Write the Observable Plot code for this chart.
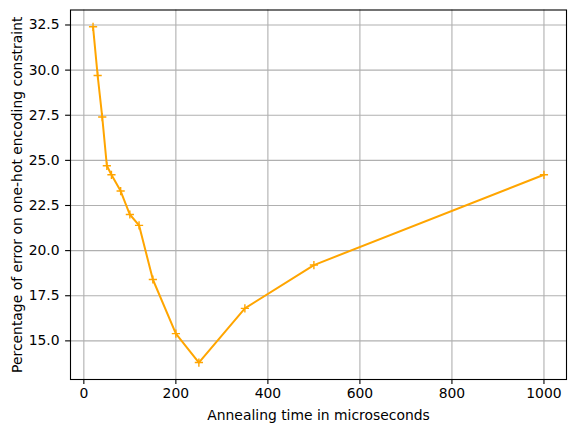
<!DOCTYPE html>
<html>
<head>
<meta charset="utf-8">
<script src="https://cdn.jsdelivr.net/npm/d3@7"></script>
<script src="https://cdn.jsdelivr.net/npm/@observablehq/plot@0.6"></script>
<style>
  html, body { margin: 0; padding: 0; background: #fff; }
  svg { display: block; }
</style>
</head>
<body>
<div id="chart"></div>
<script>
const annealTime = [20, 30, 40, 50, 60, 80, 100, 120, 150, 200, 250, 350, 500, 1000];
const errorPct = [32.4, 29.7, 27.4, 24.7, 24.2, 23.3, 22.0, 21.4, 18.4, 15.4, 13.8, 16.8, 19.2, 24.2];
const xTicks = [0, 200, 400, 600, 800, 1000];
const yTicks = [15.0, 17.5, 20.0, 22.5, 25.0, 27.5, 30.0, 32.5];
const xLabel = "Annealing time in microseconds";
const yLabel = "Percentage of error on one-hot encoding constraint";

const data = annealTime.map((t, i) => ({t, e: errorPct[i]}));

const plusSymbol = {
  draw(ctx, size) {
    const r = 4.1;
    ctx.moveTo(-r, 0); ctx.lineTo(r, 0);
    ctx.moveTo(0, -r); ctx.lineTo(0, r);
  }
};

const font = "DejaVu Sans, sans-serif";
const fs = 13.9;

const chart = Plot.plot({
  width: 576,
  height: 432,
  marginLeft: 70,
  marginRight: 10,
  marginTop: 9.5,
  marginBottom: 53,
  style: {fontFamily: font, fontSize: fs + "px", color: "black", background: "white"},
  x: {domain: [-29, 1049]},
  y: {domain: [12.86, 33.33]},
  marks: [
    Plot.gridX(xTicks, {stroke: "#b0b0b0", strokeOpacity: 1, strokeWidth: 1.1}),
    Plot.gridY(yTicks, {stroke: "#b0b0b0", strokeOpacity: 1, strokeWidth: 1.1}),
    Plot.axisX(xTicks, {tickSize: 4.9, tickPadding: 4, stroke: "black", strokeWidth: 1.1, fontSize: fs, fill: "black", label: null, tickFormat: d3.format("d")}),
    Plot.axisY(yTicks, {tickSize: 4.9, tickPadding: 6, stroke: "black", strokeWidth: 1.1, fontSize: fs, fill: "black", label: null, tickFormat: d3.format(".1f")}),
    Plot.text([xLabel], {frameAnchor: "bottom", lineAnchor: "middle", textAnchor: "middle", dy: 36, fontSize: fs, fill: "black"}),
    Plot.text([yLabel], {frameAnchor: "left", lineAnchor: "middle", textAnchor: "middle", rotate: -90, dx: -53, fontSize: fs, fill: "black"}),
    Plot.line(data, {x: "t", y: "e", stroke: "#ffa500", strokeWidth: 2}),
    Plot.dot(data, {x: "t", y: "e", symbol: plusSymbol, stroke: "#ffa500", strokeWidth: 1.4, fill: "none", r: 3}),
    Plot.frame({stroke: "black", strokeWidth: 1.1})
  ]
});
document.getElementById("chart").appendChild(chart);
</script>
</body>
</html>
